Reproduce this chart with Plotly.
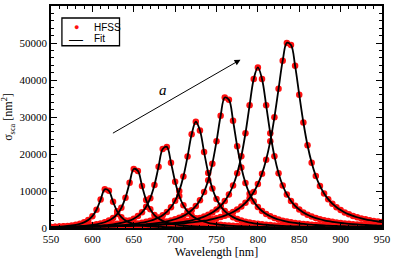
import plotly.graph_objects as go

# Wavelength grid of the HFSS samples [nm]
wavelength = list(range(550, 955, 5))

# Scattering cross-section values [nm^2], one list per resonance
hfss_1 = [283, 330, 388, 463, 561, 693, 877, 1141, 1537, 2160, 3188, 4932, 7687, 10455, 10052, 7063, 4506, 2936, 2010, 1444,
          1080, 835, 663, 539, 446, 375, 320, 275, 240, 211, 186, 166, 149, 134, 122, 111, 101, 93, 86, 79,
          73, 68, 64, 59, 56, 52, 49, 46, 43, 41, 39, 37, 35, 33, 31, 30, 28, 27, 26, 25,
          24, 23, 22, 21, 20, 19, 18, 18, 17, 16, 16, 15, 15, 14, 14, 13, 13, 13, 12, 12, 12]
hfss_2 = [224, 247, 274, 306, 344, 389, 443, 510, 592, 696, 829, 1004, 1238, 1560, 2022, 2705, 3761, 5454, 8200, 12239,
          15957, 15435, 11357, 7544, 5046, 3509, 2545, 1915, 1487, 1185, 965, 800, 673, 574, 495, 431, 379, 336, 299, 269,
          242, 220, 200, 183, 168, 155, 143, 132, 123, 115, 107, 100, 94, 88, 83, 79, 74, 70, 67, 63,
          60, 57, 55, 52, 50, 48, 46, 44, 42, 40, 38, 37, 36, 35, 33, 32, 31, 30, 29, 28, 27]
hfss_3 = [212, 228, 246, 267, 289, 315, 345, 378, 417, 462, 515, 577, 652, 741, 849, 983, 1151, 1365, 1642, 2009,
          2510, 3211, 4225, 5739, 8063, 11622, 16578, 21346, 21920, 17653, 12514, 8662, 6127, 4480, 3384, 2632, 2097, 1707, 1414, 1190,
          1014, 874, 761, 668, 591, 527, 472, 426, 386, 351, 321, 294, 271, 250, 232, 215, 201, 187, 175, 164,
          154, 145, 137, 130, 123, 116, 110, 105, 100, 95, 90, 86, 82, 79, 75, 72, 69, 66, 64, 61, 59]
hfss_4 = [208, 221, 234, 249, 265, 283, 302, 324, 348, 375, 405, 439, 477, 520, 570, 627, 692, 769, 858, 965,
          1092, 1245, 1432, 1665, 1957, 2332, 2819, 3468, 4356, 5600, 7391, 10025, 13902, 19295, 25344, 28718, 26376, 20520, 14862, 10688,
          7838, 5906, 4571, 3624, 2933, 2418, 2025, 1718, 1475, 1279, 1120, 988, 878, 786, 707, 639, 580, 530, 485, 446,
          411, 381, 353, 329, 307, 287, 268, 252, 237, 223, 211, 199, 189, 179, 170, 162, 154, 147, 140, 134, 128]
hfss_5 = [216, 226, 237, 249, 262, 277, 292, 308, 326, 346, 368, 391, 417, 445, 477, 512, 551, 594, 643, 698,
          760, 832, 913, 1007, 1116, 1243, 1393, 1572, 1786, 2047, 2368, 2769, 3275, 3928, 4787, 5939, 7519, 9734, 12887, 17366,
          23415, 30339, 35281, 34653, 28986, 22089, 16347, 12164, 9227, 7160, 5679, 4594, 3783, 3163, 2680, 2298, 1991, 1740, 1533, 1361,
          1216, 1092, 987, 896, 817, 747, 687, 633, 585, 543, 505, 470, 439, 412, 386, 363, 342, 323, 305, 289, 274]
hfss_6 = [224, 233, 243, 253, 264, 276, 289, 302, 317, 332, 349, 367, 386, 407, 430, 454, 481, 510, 542, 578,
          616, 659, 706, 758, 816, 882, 955, 1038, 1132, 1239, 1362, 1504, 1669, 1863, 2092, 2364, 2692, 3091, 3584, 4198,
          4979, 5986, 7309, 9078, 11488, 14817, 19418, 25614, 33165, 40290, 43400, 40290, 33165, 25614, 19418, 14817, 11488, 9078, 7309, 5986,
          4979, 4198, 3584, 3091, 2692, 2364, 2092, 1863, 1669, 1504, 1362, 1239, 1132, 1038, 955, 882, 816, 758, 706, 659, 616]
hfss_7 = [256, 266, 275, 285, 296, 307, 319, 332, 345, 360, 375, 391, 409, 427, 447, 468, 490, 515, 541, 569,
          600, 633, 668, 707, 750, 796, 847, 902, 963, 1031, 1106, 1189, 1282, 1387, 1504, 1637, 1788, 1960, 2159, 2389,
          2656, 2971, 3342, 3786, 4324, 4977, 5784, 6793, 8072, 9715, 11860, 14693, 18464, 23467, 29922, 37611, 45226, 50025, 49442, 43825,
          36017, 28515, 22355, 17620, 14063, 11384, 9352, 7791, 6572, 5608, 4837, 4208, 3692, 3262, 2904, 2599, 2340, 2117, 1925, 1756, 1609]

series = [hfss_1, hfss_2, hfss_3, hfss_4, hfss_5, hfss_6, hfss_7]

x_ticks = [550, 600, 650, 700, 750, 800, 850, 900, 950]
y_ticks = [0, 10000, 20000, 30000, 40000, 50000, 60000]
legend_labels = ["HFSS", "Fit"]

# Arrow annotation endpoints (data coordinates)
arrow_tail = (623, 25400)
arrow_head = (779, 45500)
label_pos = (685, 37400)

red = "#ff1010"
serif = "Liberation Serif, Times New Roman, serif"
sans = "Liberation Sans, Arial, sans-serif"

fig = go.Figure()

for s in series:
    fig.add_trace(go.Scatter(
        x=wavelength, y=s, mode="markers", name=legend_labels[0],
        marker=dict(color=red, size=6.5, line=dict(width=0)), showlegend=False))

for s in series:
    fig.add_trace(go.Scatter(
        x=wavelength, y=s, mode="lines", name=legend_labels[1],
        line=dict(color="black", width=1.8, shape="spline", smoothing=1), showlegend=False))

# Legend frame
fig.add_shape(type="rect", xref="paper", yref="paper", x0=0.033, x1=0.207, y0=0.821, y1=0.946,
              line=dict(color="black", width=1.3), fillcolor="rgba(255,255,255,0)", layer="above")

fig.add_annotation(
    x=arrow_head[0], y=arrow_head[1], ax=arrow_tail[0], ay=arrow_tail[1],
    xref="x", yref="y", axref="x", ayref="y",
    showarrow=True, arrowhead=2, arrowsize=1.2, arrowwidth=1, arrowcolor="black", text="")
fig.add_annotation(
    x=label_pos[0], y=label_pos[1], xref="x", yref="y", showarrow=False,
    text="<i>a</i>", font=dict(family=serif, size=15, color="black"))

# Legend key symbols and labels
fig.add_annotation(x=0.076, y=0.904, xref="paper", yref="paper", xanchor="center", yanchor="middle",
                   showarrow=False, text="●", font=dict(family=sans, size=9, color=red))
fig.add_annotation(x=0.076, y=0.853, xref="paper", yref="paper", xanchor="center", yanchor="middle",
                   showarrow=False, text="—", width=18, font=dict(family=sans, size=14, color="black"))
fig.add_annotation(x=0.123, y=0.902, xref="paper", yref="paper", xanchor="left", yanchor="middle",
                   showarrow=False, text=legend_labels[0], font=dict(family=sans, size=10, color="black"))
fig.add_annotation(x=0.123, y=0.853, xref="paper", yref="paper", xanchor="left", yanchor="middle",
                   showarrow=False, text=legend_labels[1], font=dict(family=sans, size=10, color="black"))

axis_common = dict(
    showline=True, linecolor="black", linewidth=1.5, mirror="allticks",
    ticks="inside", ticklen=6, tickwidth=1, tickcolor="black",
    showgrid=False, zeroline=False, tickformat="d",
    tickfont=dict(family=serif, size=11, color="black"),
)

fig.update_xaxes(
    range=[550, 950], tickvals=x_ticks,
    minor=dict(dtick=10, ticks="inside", ticklen=3, tickcolor="black", showgrid=False),
    title=dict(text="Wavelength [nm]", font=dict(family=serif, size=12, color="black"), standoff=2),
    **axis_common)
fig.update_yaxes(
    range=[0, 60000], tickvals=y_ticks,
    minor=dict(dtick=2000, ticks="inside", ticklen=3, tickcolor="black", showgrid=False),
    title=dict(text="σ<sub>sca</sub> [nm<sup>2</sup>]", font=dict(family=serif, size=12, color="black"), standoff=4),
    **axis_common)

fig.update_layout(
    width=395, height=259,
    margin=dict(l=51, r=11, t=4, b=31),
    paper_bgcolor="white", plot_bgcolor="white",
    font=dict(family=serif, color="black"),
    showlegend=False,
)

fig.write_html("out.html", config={"displayModeBar": False},
               post_script="document.body.style.margin='0';document.body.style.overflow='hidden';")
